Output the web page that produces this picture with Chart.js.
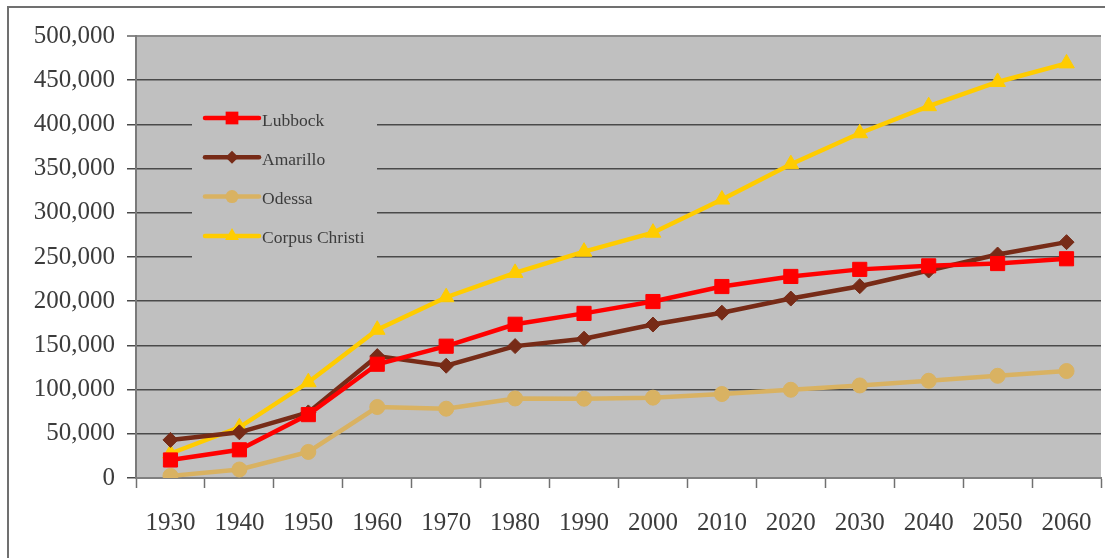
<!DOCTYPE html>
<html>
<head>
<meta charset="utf-8">
<title>Population 1930-2060</title>
<script src="https://cdn.jsdelivr.net/npm/chart.js@4.4.0/dist/chart.umd.min.js"></script>
<style>
  html, body { margin: 0; padding: 0; background: #fff; overflow: hidden; }
  #wrap { position: relative; width: 1105px; height: 558px; overflow: hidden; }
  #frame { position: absolute; left: 7px; top: 6px; width: 1200px; height: 700px;
           border-left: 2px solid #707070; border-top: 2px solid #707070; }
  #chart { position: absolute; left: 0; top: 0; }
</style>
</head>
<body>
<div id="wrap">
  <div id="frame"></div>
  <canvas id="chart" width="1112" height="558"></canvas>
</div>
<script>
// decades on the x axis
const years = ['1930', '1940', '1950', '1960', '1970', '1980', '1990',
               '2000', '2010', '2020', '2030', '2040', '2050', '2060'];

// population per city
const lubbock = [20400, 31900, 71700, 128700, 149100, 173900, 186200,
                 199600, 216600, 228000, 236000, 240000, 242600, 248000];
const amarillo = [43100, 51700, 74200, 137900, 127000, 149200, 157600,
                  173600, 187000, 203000, 217000, 234700, 252800, 266800];
const odessa = [2400, 9600, 29500, 80300, 78400, 90000, 89700,
                90900, 95000, 99800, 104700, 110000, 115600, 121000];
const corpusChristi = [27700, 57300, 108300, 167700, 204500, 232000, 256000,
                       277500, 315000, 355000, 390000, 420600, 448000, 469000];

const yMin = 0, yMax = 500000, yStep = 50000;

const FONT = '"Liberation Serif", "Times New Roman", serif';
const TEXT = '#3c3c3c';
const PLOT_BG = '#c0c0c0';
const LINE_W = 4.5;

const series = [
  { label: 'Lubbock',        data: lubbock,       color: '#ff0000', style: 'rect',     radius: 10 },
  { label: 'Amarillo',       data: amarillo,      color: '#772b17', style: 'rectRot',  radius: 7.5 },
  { label: 'Odessa',         data: odessa,        color: '#d9b262', style: 'circle',   radius: 7.5 },
  { label: 'Corpus Christi', data: corpusChristi, color: '#ffcc00', style: 'triangle', radius: 9 }
];

// grey plot area
const plotBackground = {
  id: 'plotBackground',
  beforeDraw(chart) {
    const { ctx, chartArea: a } = chart;
    ctx.save();
    ctx.fillStyle = PLOT_BG;
    ctx.fillRect(a.left, a.top, a.right - a.left, a.bottom - a.top);
    ctx.restore();
  }
};

function marker(ctx, style, x, y, r) {
  ctx.beginPath();
  if (style === 'rect') {
    const s = r * Math.SQRT1_2;
    ctx.rect(x - s, y - s, 2 * s, 2 * s);
  } else if (style === 'rectRot') {
    ctx.moveTo(x - r, y); ctx.lineTo(x, y - r); ctx.lineTo(x + r, y); ctx.lineTo(x, y + r);
    ctx.closePath();
  } else if (style === 'circle') {
    ctx.arc(x, y, r, 0, Math.PI * 2);
  } else {
    ctx.moveTo(x, y - r);
    ctx.lineTo(x + r * Math.sin(Math.PI * 2 / 3), y - r * Math.cos(Math.PI * 2 / 3));
    ctx.lineTo(x + r * Math.sin(Math.PI * 4 / 3), y - r * Math.cos(Math.PI * 4 / 3));
    ctx.closePath();
  }
  ctx.fill();
}

// legend box sitting inside the plot, hiding the gridlines behind it
const insideLegend = {
  id: 'insideLegend',
  beforeDatasetsDraw(chart) {
    const { ctx, chartArea: a } = chart;
    const boxX = a.left + 56, boxY = a.top + 56, boxW = 185, boxH = 170;
    ctx.save();
    ctx.fillStyle = PLOT_BG;
    ctx.fillRect(boxX, boxY, boxW, boxH);
    const x0 = boxX + 13, x1 = boxX + 67;
    series.forEach((s, i) => {
      const y = boxY + 26 + i * 39.3;
      ctx.strokeStyle = s.color;
      ctx.fillStyle = s.color;
      ctx.lineWidth = LINE_W;
      ctx.lineCap = 'round';
      ctx.beginPath();
      ctx.moveTo(x0, y);
      ctx.lineTo(x1, y);
      ctx.stroke();
      marker(ctx, s.style, (x0 + x1) / 2, y, s.radius - 1);
      ctx.fillStyle = TEXT;
      ctx.font = '17.5px ' + FONT;
      ctx.textAlign = 'left';
      ctx.textBaseline = 'middle';
      ctx.fillText(s.label, x1 + 3, y + 3);
    });
    ctx.restore();
  }
};

new Chart(document.getElementById('chart'), {
  type: 'line',
  data: {
    labels: years,
    datasets: series.map(s => ({
      label: s.label,
      data: s.data,
      borderColor: s.color,
      backgroundColor: s.color,
      borderWidth: LINE_W,
      pointStyle: s.style,
      pointRadius: s.radius,
      pointBorderWidth: 1,
      pointBorderColor: s.color,
      pointBackgroundColor: s.color,
      tension: 0,
      fill: false
    }))
  },
  options: {
    responsive: false,
    animation: false,
    layout: { padding: { left: 0, top: 36, right: 4, bottom: 0 } },
    plugins: {
      legend: { display: false },
      tooltip: { enabled: false }
    },
    scales: {
      x: {
        offset: true,
        grid: { offset: true, color: 'transparent', tickColor: '#707070', tickLength: 10, tickWidth: 1.5 },
        border: { display: true, color: '#808080', width: 2 },
        ticks: { color: TEXT, font: { family: FONT, size: 25 }, padding: 20, maxRotation: 0, autoSkip: false },
        afterFit(scale) { scale.height = 80; }
      },
      y: {
        min: yMin,
        max: yMax,
        grid: {
          color: ctx => ctx.tick && ctx.tick.value === yMax ? '#8a8a8a' : '#4a4a4a',
          lineWidth: ctx => ctx.tick && ctx.tick.value === yMax ? 2 : 1.5,
          tickLength: 9
        },
        border: { display: true, color: '#7a7a7a', width: 2 },
        ticks: {
          stepSize: yStep,
          color: TEXT,
          font: { family: FONT, size: 25 },
          padding: 12,
          callback: v => v.toLocaleString('en-US')
        },
        afterFit(scale) { scale.width = 136; }
      }
    }
  },
  plugins: [plotBackground, insideLegend]
});
</script>
</body>
</html>
